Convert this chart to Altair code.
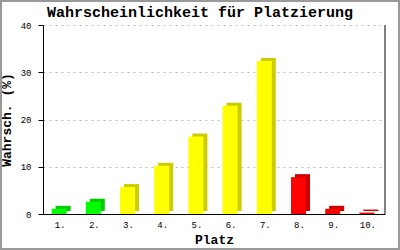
import altair as alt
import pandas as pd

places = ["1.", "2.", "3.", "4.", "5.", "6.", "7.", "8.", "9.", "10."]
values = [1.1, 2.6, 5.7, 10.2, 16.4, 22.9, 32.4, 7.8, 1.1, 0.3]
front_colors = ["#00FF00", "#00FF00", "#FFFF00", "#FFFF00", "#FFFF00",
                "#FFFF00", "#FFFF00", "#FF0000", "#FF0000", "#FF0000"]
side_colors = ["#00CC00", "#00CC00", "#CCCC00", "#CCCC00", "#CCCC00",
               "#CCCC00", "#CCCC00", "#CC0000", "#CC0000", "#CC0000"]

df = pd.DataFrame({"Platz": places, "Wert": values,
                   "front": front_colors, "side": side_colors})

W, H = 342, 189
FONT = "Liberation Mono"

x_enc = alt.X("Platz:N", sort=places, title="Platz",
              scale=alt.Scale(paddingInner=0.0, paddingOuter=0.0),
              axis=alt.Axis(labelAngle=0, ticks=False, labelFont=FONT,
                            labelFontSize=9, labelPadding=6, labelColor="black",
                            domainColor="black", titleFont=FONT,
                            titleFontSize=13, titleFontWeight="bold",
                            titlePadding=4, titleColor="black"))
y_enc = alt.Y("Wert:Q", title="Wahrsch. (%)",
              scale=alt.Scale(domain=[0, 40], nice=False),
              axis=alt.Axis(values=[0, 10, 20, 30, 40], tickSize=5,
                            tickColor="black", domainColor="black",
                            labelFont=FONT, labelFontSize=9, labelPadding=7,
                            labelColor="black", grid=True, gridColor="#BBBBBB",
                            gridDash=[2, 4], titleFont=FONT, titleFontSize=13,
                            titleFontWeight="bold", titlePadding=7,
                            titleColor="black"))

back = alt.Chart(df).mark_bar(size=15, xOffset=3, x2Offset=3,
                              yOffset=-3, y2Offset=-3).encode(
    x=x_enc, y=y_enc, color=alt.Color("side:N", scale=None))
front = alt.Chart(df).mark_bar(size=15, xOffset=-1, x2Offset=-1).encode(
    x=x_enc, y=y_enc, color=alt.Color("front:N", scale=None))

right_line = alt.Chart(df.head(1)).mark_rule(color="black", strokeWidth=1).encode(
    x=alt.value(W), y=alt.value(0), y2=alt.value(H))

border = alt.Chart(df.head(1)).mark_rect(fill=None, stroke="#999999",
                                         strokeWidth=2).encode(
    x=alt.value(-42), x2=alt.value(356), y=alt.value(-24), y2=alt.value(224))

title = alt.Chart(df.head(1)).mark_text(
    text="Wahrscheinlichkeit für Platzierung", font=FONT, fontSize=15,
    fontWeight="bold", align="center", baseline="alphabetic",
    color="black").encode(x=alt.value(157), y=alt.value(-8))

chart = alt.layer(back, front, right_line, border, title).properties(
    width=W, height=H,
    autosize=alt.AutoSizeParams(type="none"),
    padding={"left": 43, "top": 25, "right": 15, "bottom": 36},
    background="white",
).configure_view(stroke=None)

chart.save("out.html", embed_options={"renderer": "svg", "actions": False})
